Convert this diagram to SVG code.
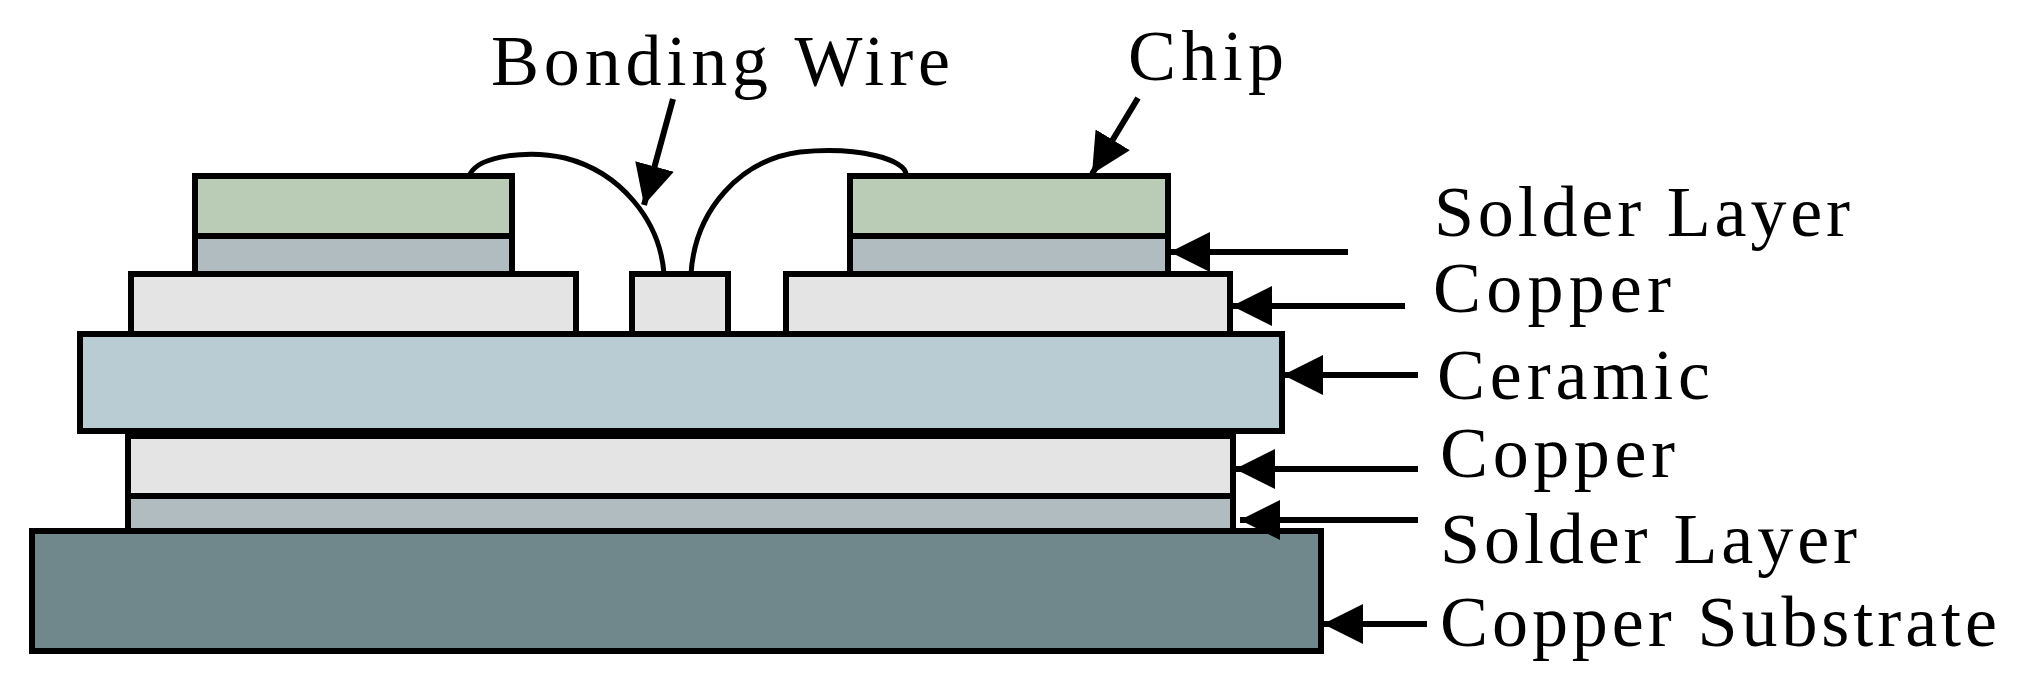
<svg xmlns="http://www.w3.org/2000/svg" width="2031" height="686" viewBox="0 0 2031 686">
<style>
.l{stroke:#000;stroke-width:6;stroke-linejoin:miter}
.t{font-family:"Liberation Serif","Times New Roman",serif;font-size:72px;fill:#000}
.w{fill:none;stroke:#000;stroke-width:5}
.a{stroke:#000;stroke-width:6;fill:none}
</style>
<defs>
<marker id="ah2" viewBox="0 0 10 10" refX="10" refY="5" markerWidth="40" markerHeight="40" markerUnits="userSpaceOnUse" orient="auto"><path d="M0,0 L10,5 L0,10 z" fill="#000"/></marker>
</defs>
<rect width="2031" height="686" fill="#fff"/>
<g id="substrate"><rect class="l" x="32" y="531" width="1289" height="120" fill="#70888b"/></g>
<g id="solder-bottom"><rect class="l" x="128" y="496" width="1105" height="35" fill="#b1bcc1"/></g>
<g id="copper-bottom"><rect class="l" x="128" y="436" width="1105" height="60" fill="#e5e4e5"/></g>
<g id="ceramic"><rect class="l" x="80" y="334" width="1202" height="97" fill="#b9ccd3"/></g>
<g id="copper-top-left"><rect class="l" x="131" y="274" width="445" height="60" fill="#e5e4e5"/></g>
<g id="pad"><rect class="l" x="632" y="274" width="96" height="60" fill="#e5e4e5"/></g>
<g id="copper-top-right"><rect class="l" x="786" y="274" width="444" height="60" fill="#e5e4e5"/></g>
<g id="solder-left"><rect class="l" x="195" y="236" width="317" height="38" fill="#b1bcc1"/></g>
<g id="solder-right"><rect class="l" x="850" y="236" width="318" height="38" fill="#b1bcc1"/></g>
<g id="chip-left"><rect class="l" x="195" y="176" width="317" height="60" fill="#bacbb6"/></g>
<g id="chip-right"><rect class="l" x="850" y="176" width="318" height="60" fill="#bacbb6"/></g>
<g id="wires">
<path class="w" d="M470,174 C480,155 530,150 565,158 C620,172 660,220 664,274"/>
<path class="w" d="M691,274 C695,210 740,160 800,152 C860,146 905,160 906,174"/>
</g>
<g id="connectors">
<line class="a" x1="673" y1="99" x2="644" y2="205" marker-end="url(#ah2)"/>
<line class="a" x1="1138" y1="98" x2="1092" y2="174" marker-end="url(#ah2)"/>
<line class="a" x1="1348" y1="252" x2="1170" y2="252" marker-end="url(#ah2)"/>
<line class="a" x1="1405" y1="306" x2="1232" y2="306" marker-end="url(#ah2)"/>
<line class="a" x1="1418" y1="375" x2="1283" y2="375" marker-end="url(#ah2)"/>
<line class="a" x1="1418" y1="469" x2="1235" y2="469" marker-end="url(#ah2)"/>
<line class="a" x1="1418" y1="520" x2="1240" y2="520" marker-end="url(#ah2)"/>
<line class="a" x1="1427" y1="624" x2="1323" y2="624" marker-end="url(#ah2)"/>
</g>
<g id="labels">
<text class="t" x="491" y="85" textLength="459">Bonding Wire</text>
<text class="t" x="1128" y="80" textLength="156">Chip</text>
<text class="t" x="1434" y="236" textLength="416">Solder Layer</text>
<text class="t" x="1433" y="312" textLength="238">Copper</text>
<text class="t" x="1437" y="399" textLength="273">Ceramic</text>
<text class="t" x="1440" y="477" textLength="235">Copper</text>
<text class="t" x="1440" y="563" textLength="417">Solder Layer</text>
<text class="t" x="1440" y="646" textLength="557">Copper Substrate</text>
</g>
</svg>
